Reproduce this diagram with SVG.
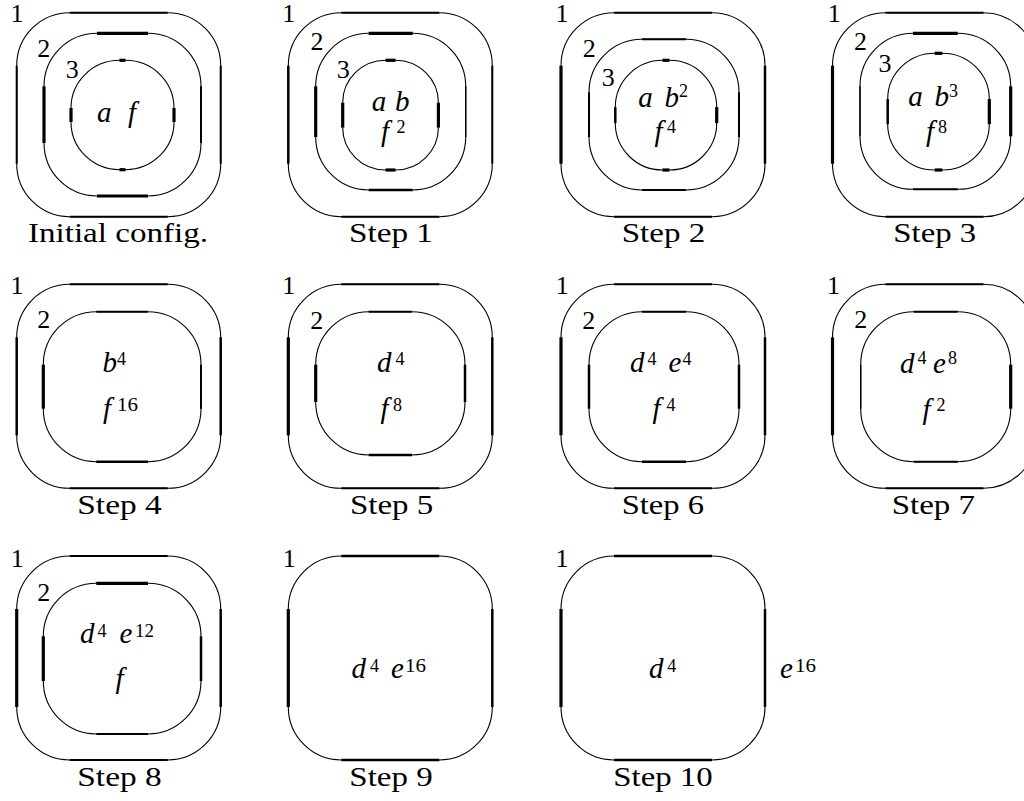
<svg xmlns="http://www.w3.org/2000/svg" width="1024" height="801" viewBox="0 0 1024 801">
<style>
.a{fill:none;stroke:#000;stroke-width:1.1}
.n{stroke:#000;stroke-width:2;fill:none}
.m{stroke:#000;stroke-width:2.5;fill:none}
.t{stroke:#000;stroke-width:3.2;fill:none}
.h{stroke:#000;stroke-width:1.4;fill:none}
text{font-family:'Liberation Serif','DejaVu Serif','Times New Roman',serif;fill:#000}
.lab{font-size:26px;text-anchor:middle}
.cap{font-size:27px}
.v{font-style:italic;font-size:29px}
.s{font-size:18px}
</style>
<rect width="1024" height="801" fill="#fff"/>

<g id="panel-initial">
 <g id="p0-m1">
  <rect class="a" x="16.7" y="12.7" width="204" height="204" rx="53" ry="53"/>
  <line class="n" x1="69.7" y1="12.7" x2="167.7" y2="12.7"/>
  <line class="n" x1="69.7" y1="216.7" x2="167.7" y2="216.7"/>
  <line class="n" x1="16.7" y1="65.7" x2="16.7" y2="163.7"/>
  <line class="n" x1="220.7" y1="65.7" x2="220.7" y2="163.7"/>
 </g>
 <g id="p0-m2">
  <rect class="a" x="44" y="33.3" width="157" height="162.7" rx="53" ry="53"/>
  <line class="t" x1="97" y1="33.3" x2="148" y2="33.3"/>
  <line class="t" x1="97" y1="196" x2="148" y2="196"/>
  <line class="t" x1="44" y1="86.3" x2="44" y2="143"/>
  <line class="n" x1="201" y1="86.3" x2="201" y2="143"/>
 </g>
 <g id="p0-m3">
  <rect class="a" x="71" y="60.3" width="103" height="109.4" rx="48.5" ry="47.7"/>
  <line class="t" x1="119.5" y1="60.3" x2="125.5" y2="60.3"/>
  <line class="t" x1="119.5" y1="169.7" x2="125.5" y2="169.7"/>
  <line class="t" x1="71" y1="108" x2="71" y2="122"/>
  <line class="t" x1="174" y1="108" x2="174" y2="122"/>
 </g>
 <text class="lab" x="17" y="22.3">1</text>
 <text class="lab" x="43.7" y="56.7">2</text>
 <text class="lab" x="72.2" y="78.3">3</text>
 <text class="v" x="97" y="122">a</text>
 <text class="v" x="128" y="122">f</text>
 <text class="cap" x="28" y="242.3" textLength="180" lengthAdjust="spacingAndGlyphs">Initial config.</text>
</g>

<g id="panel-step1">
 <g id="p1-m1">
  <rect class="a" x="288.3" y="12.7" width="204" height="204" rx="53" ry="53"/>
  <line class="n" x1="341.3" y1="12.7" x2="439.3" y2="12.7"/>
  <line class="n" x1="341.3" y1="216.7" x2="439.3" y2="216.7"/>
  <line class="m" x1="288.3" y1="65.7" x2="288.3" y2="163.7"/>
  <line class="n" x1="492.3" y1="65.7" x2="492.3" y2="163.7"/>
 </g>
 <g id="p1-m2">
  <rect class="a" x="315.7" y="33.3" width="150" height="156.7" rx="53" ry="53"/>
  <line class="t" x1="368.7" y1="33.3" x2="412.7" y2="33.3"/>
  <line class="m" x1="368.7" y1="190" x2="412.7" y2="190"/>
  <line class="t" x1="315.7" y1="86.3" x2="315.7" y2="137"/>
  <line class="h" x1="465.7" y1="86.3" x2="465.7" y2="137"/>
 </g>
 <g id="p1-m3">
  <rect class="a" x="342.7" y="60.3" width="95.7" height="109.7" rx="42.9" ry="42.4"/>
  <line class="t" x1="385.6" y1="60.3" x2="395.5" y2="60.3"/>
  <line class="t" x1="385.6" y1="170" x2="395.5" y2="170"/>
  <line class="t" x1="342.7" y1="102.7" x2="342.7" y2="127.6"/>
  <line class="t" x1="438.4" y1="102.7" x2="438.4" y2="127.6"/>
 </g>
 <text class="lab" x="288.7" y="22.3">1</text>
 <text class="lab" x="317" y="50">2</text>
 <text class="lab" x="343.3" y="78.3">3</text>
 <text class="v" x="371.7" y="111">a</text>
 <text class="v" x="395" y="111">b</text>
 <text class="v" x="381" y="141">f</text>
 <text class="s" x="396.5" y="133.3">2</text>
 <text class="cap" x="349" y="242.3" textLength="84" lengthAdjust="spacingAndGlyphs">Step 1</text>
</g>

<g id="panel-step2">
 <g id="p2-m1">
  <rect class="a" x="561" y="12.7" width="204" height="204" rx="53" ry="53"/>
  <line class="n" x1="614" y1="12.7" x2="712" y2="12.7"/>
  <line class="n" x1="614" y1="216.7" x2="712" y2="216.7"/>
  <line class="t" x1="561" y1="65.7" x2="561" y2="163.7"/>
  <line class="m" x1="765" y1="65.7" x2="765" y2="163.7"/>
 </g>
 <g id="p2-m2">
  <rect class="a" x="589" y="39.3" width="150" height="150.7" rx="53" ry="53"/>
  <line class="n" x1="642" y1="39.3" x2="686" y2="39.3"/>
  <line class="n" x1="642" y1="190" x2="686" y2="190"/>
  <line class="n" x1="589" y1="92.3" x2="589" y2="137"/>
  <line class="n" x1="739" y1="92.3" x2="739" y2="137"/>
 </g>
 <g id="p2-m3">
  <rect class="a" x="615.3" y="60.3" width="101.4" height="109.7" rx="47.2" ry="46.9"/>
  <line class="t" x1="662.5" y1="60.3" x2="669.5" y2="60.3"/>
  <line class="t" x1="662.5" y1="170" x2="669.5" y2="170"/>
  <line class="m" x1="615.3" y1="107.2" x2="615.3" y2="123.1"/>
  <line class="t" x1="716.7" y1="107.2" x2="716.7" y2="123.1"/>
 </g>
 <text class="lab" x="562" y="22.3">1</text>
 <text class="lab" x="589.2" y="56.7">2</text>
 <text class="lab" x="608.3" y="86">3</text>
 <text class="v" x="638.3" y="107">a</text>
 <text class="v" x="664.5" y="107">b</text>
 <text class="s" x="679" y="97">2</text>
 <text class="v" x="654.5" y="141">f</text>
 <text class="s" x="667" y="133.3">4</text>
 <text class="cap" x="621.7" y="242.3" textLength="83.5" lengthAdjust="spacingAndGlyphs">Step 2</text>
</g>

<g id="panel-step3">
 <g id="p3-m1">
  <rect class="a" x="832.5" y="12.7" width="204" height="204" rx="53" ry="53"/>
  <line class="n" x1="885.5" y1="12.7" x2="983.5" y2="12.7"/>
  <line class="n" x1="885.5" y1="216.7" x2="983.5" y2="216.7"/>
  <line class="t" x1="832.5" y1="65.7" x2="832.5" y2="163.7"/>
 </g>
 <g id="p3-m2">
  <rect class="a" x="860" y="33.3" width="150.7" height="156" rx="53" ry="53"/>
  <line class="t" x1="913" y1="33.3" x2="957.7" y2="33.3"/>
  <line class="n" x1="913" y1="189.3" x2="957.7" y2="189.3"/>
  <line class="h" x1="860" y1="86.3" x2="860" y2="136.3"/>
  <line class="t" x1="1010.7" y1="86.3" x2="1010.7" y2="136.3"/>
 </g>
 <g id="p3-m3">
  <rect class="a" x="887.7" y="53.3" width="101.6" height="116.7" rx="47" ry="45.8"/>
  <line class="t" x1="934.7" y1="53.3" x2="942.3" y2="53.3"/>
  <line class="t" x1="934.7" y1="170" x2="942.3" y2="170"/>
  <line class="m" x1="887.7" y1="99.1" x2="887.7" y2="124.2"/>
  <line class="t" x1="989.3" y1="99.1" x2="989.3" y2="124.2"/>
 </g>
 <text class="lab" x="834.2" y="22.3">1</text>
 <text class="lab" x="860.5" y="50">2</text>
 <text class="lab" x="885" y="71.7">3</text>
 <text class="v" x="908.3" y="106">a</text>
 <text class="v" x="934.5" y="106">b</text>
 <text class="s" x="949" y="97">3</text>
 <text class="v" x="926" y="141">f</text>
 <text class="s" x="938" y="133.3">8</text>
 <text class="cap" x="893.3" y="242.3" textLength="83" lengthAdjust="spacingAndGlyphs">Step 3</text>
</g>

<g id="panel-step4">
 <g id="p4-m1">
  <rect class="a" x="16.7" y="284.3" width="204" height="204" rx="53" ry="53"/>
  <line class="n" x1="69.7" y1="284.3" x2="167.7" y2="284.3"/>
  <line class="n" x1="69.7" y1="488.3" x2="167.7" y2="488.3"/>
  <line class="m" x1="16.7" y1="337.3" x2="16.7" y2="435.3"/>
  <line class="m" x1="220.7" y1="337.3" x2="220.7" y2="435.3"/>
 </g>
 <g id="p4-m2">
  <rect class="a" x="43.3" y="311.7" width="157.7" height="150" rx="53" ry="53"/>
  <line class="n" x1="96.3" y1="311.7" x2="148" y2="311.7"/>
  <line class="m" x1="96.3" y1="461.7" x2="148" y2="461.7"/>
  <line class="t" x1="43.3" y1="364.7" x2="43.3" y2="408.7"/>
  <line class="n" x1="201" y1="364.7" x2="201" y2="408.7"/>
 </g>
 <text class="lab" x="17" y="294.3">1</text>
 <text class="lab" x="43.8" y="328.3">2</text>
 <text class="v" x="102.5" y="372.3">b</text>
 <text class="s" x="117" y="365">4</text>
 <text class="v" x="103" y="418">f</text>
 <text class="s" x="117" y="410.7" textLength="21" lengthAdjust="spacingAndGlyphs">16</text>
 <text class="cap" x="77.3" y="514" textLength="84.4" lengthAdjust="spacingAndGlyphs">Step 4</text>
</g>

<g id="panel-step5">
 <g id="p5-m1">
  <rect class="a" x="288.3" y="284.3" width="204" height="204" rx="53" ry="53"/>
  <line class="n" x1="341.3" y1="284.3" x2="439.3" y2="284.3"/>
  <line class="n" x1="341.3" y1="488.3" x2="439.3" y2="488.3"/>
  <line class="t" x1="288.3" y1="337.3" x2="288.3" y2="435.3"/>
  <line class="m" x1="492.3" y1="337.3" x2="492.3" y2="435.3"/>
 </g>
 <g id="p5-m2">
  <rect class="a" x="315.7" y="311.7" width="149.3" height="143.3" rx="53" ry="53"/>
  <line class="n" x1="368.7" y1="311.7" x2="412" y2="311.7"/>
  <line class="m" x1="368.7" y1="455" x2="412" y2="455"/>
  <line class="t" x1="315.7" y1="364.7" x2="315.7" y2="402"/>
  <line class="m" x1="465" y1="364.7" x2="465" y2="402"/>
 </g>
 <text class="lab" x="288.8" y="294.3">1</text>
 <text class="lab" x="316.7" y="329">2</text>
 <text class="v" x="377" y="372.3">d</text>
 <text class="s" x="395.5" y="365">4</text>
 <text class="v" x="380.5" y="418">f</text>
 <text class="s" x="393" y="410.7">8</text>
 <text class="cap" x="350" y="514" textLength="83.3" lengthAdjust="spacingAndGlyphs">Step 5</text>
</g>

<g id="panel-step6">
 <g id="p6-m1">
  <rect class="a" x="561" y="284.3" width="204" height="204" rx="53" ry="53"/>
  <line class="n" x1="614" y1="284.3" x2="712" y2="284.3"/>
  <line class="n" x1="614" y1="488.3" x2="712" y2="488.3"/>
  <line class="t" x1="561" y1="337.3" x2="561" y2="435.3"/>
  <line class="m" x1="765" y1="337.3" x2="765" y2="435.3"/>
 </g>
 <g id="p6-m2">
  <rect class="a" x="589" y="311.7" width="150" height="150" rx="53" ry="53"/>
  <line class="n" x1="642" y1="311.7" x2="686" y2="311.7"/>
  <line class="m" x1="642" y1="461.7" x2="686" y2="461.7"/>
  <line class="m" x1="589" y1="364.7" x2="589" y2="408.7"/>
  <line class="m" x1="739" y1="364.7" x2="739" y2="408.7"/>
 </g>
 <text class="lab" x="562.3" y="294.3">1</text>
 <text class="lab" x="588.8" y="329">2</text>
 <text class="v" x="630" y="372.3">d</text>
 <text class="s" x="647.5" y="365">4</text>
 <text class="v" x="668.5" y="372.3">e</text>
 <text class="s" x="682.5" y="365">4</text>
 <text class="v" x="652.5" y="418">f</text>
 <text class="s" x="666.5" y="410.7">4</text>
 <text class="cap" x="621.7" y="514" textLength="82.3" lengthAdjust="spacingAndGlyphs">Step 6</text>
</g>

<g id="panel-step7">
 <g id="p7-m1">
  <rect class="a" x="832.5" y="284.3" width="204" height="204" rx="53" ry="53"/>
  <line class="n" x1="885.5" y1="284.3" x2="983.5" y2="284.3"/>
  <line class="n" x1="885.5" y1="488.3" x2="983.5" y2="488.3"/>
  <line class="t" x1="832.5" y1="337.3" x2="832.5" y2="435.3"/>
 </g>
 <g id="p7-m2">
  <rect class="a" x="860.7" y="311.7" width="150" height="150" rx="53" ry="53"/>
  <line class="n" x1="913.7" y1="311.7" x2="957.7" y2="311.7"/>
  <line class="n" x1="913.7" y1="461.7" x2="957.7" y2="461.7"/>
  <line class="h" x1="860.7" y1="364.7" x2="860.7" y2="408.7"/>
  <line class="t" x1="1010.7" y1="364.7" x2="1010.7" y2="408.7"/>
 </g>
 <text class="lab" x="833.5" y="294.3">1</text>
 <text class="lab" x="860.7" y="328.3">2</text>
 <text class="v" x="900" y="373.3">d</text>
 <text class="s" x="917.5" y="364">4</text>
 <text class="v" x="933" y="373.3">e</text>
 <text class="s" x="948" y="364">8</text>
 <text class="v" x="922.5" y="419">f</text>
 <text class="s" x="936.5" y="411">2</text>
 <text class="cap" x="891.7" y="514" textLength="83.3" lengthAdjust="spacingAndGlyphs">Step 7</text>
</g>

<g id="panel-step8">
 <g id="p8-m1">
  <rect class="a" x="16.7" y="556" width="204" height="204" rx="53" ry="53"/>
  <line class="n" x1="69.7" y1="556" x2="167.7" y2="556"/>
  <line class="n" x1="69.7" y1="760" x2="167.7" y2="760"/>
  <line class="t" x1="16.7" y1="609" x2="16.7" y2="707"/>
  <line class="m" x1="220.7" y1="609" x2="220.7" y2="707"/>
 </g>
 <g id="p8-m2">
  <rect class="a" x="43.3" y="583.3" width="157.7" height="150.7" rx="53" ry="53"/>
  <line class="t" x1="96.3" y1="583.3" x2="148" y2="583.3"/>
  <line class="n" x1="96.3" y1="734" x2="148" y2="734"/>
  <line class="t" x1="43.3" y1="636.3" x2="43.3" y2="681"/>
  <line class="m" x1="201" y1="636.3" x2="201" y2="681"/>
 </g>
 <text class="lab" x="17.2" y="566.7">1</text>
 <text class="lab" x="43.8" y="601">2</text>
 <text class="v" x="80" y="643.3">d</text>
 <text class="s" x="97.5" y="636.7">4</text>
 <text class="v" x="119.5" y="643.3">e</text>
 <text class="s" x="135" y="636.7" textLength="19" lengthAdjust="spacingAndGlyphs">12</text>
 <text class="v" x="115.5" y="688">f</text>
 <text class="cap" x="77.3" y="785.7" textLength="84.4" lengthAdjust="spacingAndGlyphs">Step 8</text>
</g>

<g id="panel-step9">
 <g id="p9-m1">
  <rect class="a" x="288.3" y="556" width="204" height="204" rx="53" ry="53"/>
  <line class="m" x1="341.3" y1="556" x2="439.3" y2="556"/>
  <line class="m" x1="341.3" y1="760" x2="439.3" y2="760"/>
  <line class="t" x1="288.3" y1="609" x2="288.3" y2="707"/>
  <line class="m" x1="492.3" y1="609" x2="492.3" y2="707"/>
 </g>
 <text class="lab" x="289.2" y="566.7">1</text>
 <text class="v" x="351.5" y="678.3">d</text>
 <text class="s" x="370" y="671.7">4</text>
 <text class="v" x="391" y="678.3">e</text>
 <text class="s" x="405" y="671.7" textLength="21" lengthAdjust="spacingAndGlyphs">16</text>
 <text class="cap" x="349.3" y="785.7" textLength="83.4" lengthAdjust="spacingAndGlyphs">Step 9</text>
</g>

<g id="panel-step10">
 <g id="p10-m1">
  <rect class="a" x="561" y="556" width="204" height="204" rx="53" ry="53"/>
  <line class="m" x1="614" y1="556" x2="712" y2="556"/>
  <line class="m" x1="614" y1="760" x2="712" y2="760"/>
  <line class="t" x1="561" y1="609" x2="561" y2="707"/>
  <line class="m" x1="765" y1="609" x2="765" y2="707"/>
 </g>
 <text class="lab" x="562" y="566.7">1</text>
 <text class="v" x="649" y="678.3">d</text>
 <text class="s" x="667.3" y="671.7">4</text>
 <text class="v" x="780" y="678.3">e</text>
 <text class="s" x="795" y="671.7" textLength="21" lengthAdjust="spacingAndGlyphs">16</text>
 <text class="cap" x="613.3" y="785.7" textLength="99.4" lengthAdjust="spacingAndGlyphs">Step 10</text>
</g>
</svg>
